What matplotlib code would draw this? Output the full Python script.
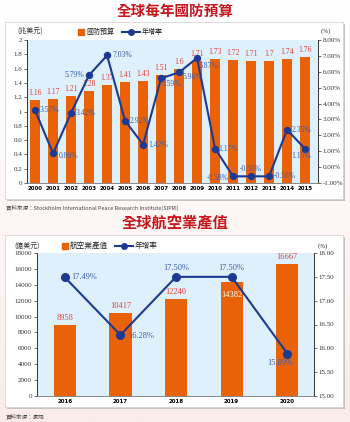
import numpy as np
import matplotlib.pyplot as plt
from matplotlib.patches import Rectangle
from matplotlib.lines import Line2D
from matplotlib.colors import LinearSegmentedColormap

#%% DATA
years1 = ['2000', '2001', '2002', '2003', '2004', '2005', '2006', '2007',
          '2008', '2009', '2010', '2011', '2012', '2013', '2014', '2015']
budget = [1.16, 1.17, 1.21, 1.28, 1.37, 1.41, 1.43, 1.51,
          1.6, 1.71, 1.73, 1.72, 1.71, 1.7, 1.74, 1.76]
growth1 = [3.57, 0.86, 3.42, 5.79, 7.03, 2.92, 1.42, 5.59,
           5.96, 6.87, 1.17, -0.58, -0.58, -0.58, 2.35, 1.15]
budget_labels = ['1.16', '1.17', '1.21', '1.28', '1.37', '1.41', '1.43', '1.51',
                 '1.6', '1.71', '1.73', '1.72', '1.71', '1.7', '1.74', '1.76']

years2 = ['2016', '2017', '2018', '2019', '2020']
aero = [8958, 10417, 12240, 14382, 16667]
growth2 = [17.49, 16.28, 17.50, 17.50, 15.89]

#%% STYLE
W, H = 350, 422
BAR = '#ea6208'
LINE = '#1d3a92'
PLOT_BG = '#def0fb'
RED_TXT = '#e2423a'
BLUE_TXT = '#3e5fae'
TITLE = '#c8161d'
SERIF = 'Liberation Serif'
CJK = ['Noto Sans CJK TC', 'DejaVu Sans']

# label offsets in pixels (dx, dy, ha)
offs1 = [(5, 0, 'left'), (6, -3, 'left'), (5, 0, 'left'), (-5, 0, 'right'),
         (5, 0, 'left'), (5, 0, 'left'), (5, 0, 'left'), (0, -6, 'left'),
         (3, -5, 'left'), (2, -8, 'left'), (3, 0, 'left'), (-4, -2, 'right'),
         (0, 7, 'center'), (5, 0, 'left'), (5, 0, 'left'), (-4, -7, 'center')]
offs2 = [(6, 0, 'left'), (8, -1, 'left'), (0, 9, 'center'), (0, 9, 'center'),
         (-7, -9, 'center')]


def rect(l, t, r, b):
    return [l / W, 1 - b / H, (r - l) / W, (b - t) / H]


def fx(x):
    return x / W


def fy(y):
    return 1 - y / H


def legend_items(y, sq_x, label1, line_x, label2, fs):
    fig.add_artist(Rectangle((fx(sq_x), fy(y + 3)), fx(6), 6 / H,
                             transform=fig.transFigure, color=BAR))
    fig.text(fx(sq_x + 8), fy(y), label1, fontsize=fs, family=CJK,
             color='#222222', va='center')
    fig.add_artist(Line2D([fx(line_x), fx(line_x + 9), fx(line_x + 18)],
                          [fy(y)] * 3, color=LINE, lw=1.5, marker='o', ms=4,
                          markevery=[1], transform=fig.transFigure))
    fig.text(fx(line_x + 20), fy(y), label2, fontsize=fs, family=CJK,
             color='#222222', va='center')


fig = plt.figure(figsize=(3.5, 4.22), dpi=100)
fig.patch.set_facecolor('white')

# faint pink background
bg = fig.add_axes([0, 0, 1, 1], zorder=-10)
grad = np.linspace(0, 1, 200).reshape(-1, 1)
bg.imshow(grad, aspect='auto', extent=[0, 1, 0, 1],
          cmap=LinearSegmentedColormap.from_list(
              'p', ['#f9ecea', '#fdf7f6', '#ffffff']), origin='lower')
bg.axis('off')

# panel boxes with shadow
for (t, b) in [(22, 199), (235, 407)]:
    fig.add_artist(Rectangle((fx(7), fy(b + 2)), fx(338), (b - t) / H,
                             transform=fig.transFigure, facecolor='#c4c4c4',
                             edgecolor='none', zorder=-5))
    fig.add_artist(Rectangle((fx(5), fy(b)), fx(338), (b - t) / H,
                             transform=fig.transFigure, facecolor='white',
                             edgecolor='#d0d0d0', lw=0.5, zorder=-4))


def style_axes(ax, ax2):
    ax.set_facecolor(PLOT_BG)
    ax.set_zorder(1)
    ax2.set_zorder(2)
    for a in (ax, ax2):
        a.spines['top'].set_visible(False)
        a.spines['left'].set_color('#333333')
        a.spines['right'].set_color('#333333')
        a.spines['bottom'].set_color('#888888')
        for s in a.spines.values():
            s.set_linewidth(0.6)
        a.tick_params(axis='y', length=2, width=0.5, pad=1.5, labelsize=5,
                      colors='#333333')
        a.tick_params(axis='x', length=0, pad=2.5, labelsize=4)
        for lab in a.get_yticklabels():
            lab.set_fontfamily(SERIF)
    for lab in ax.get_xticklabels():
        lab.set_fontweight('bold')


#%% TOP CHART
ax = fig.add_axes(rect(27, 40, 318, 183))
x1 = np.arange(len(years1))
ax.bar(x1, budget, width=0.53, color=BAR, zorder=2)
ax.set_xlim(-0.45, 15.72)
ax.set_ylim(0, 2)
ax.set_yticks(np.arange(0, 2.01, 0.2))
ax.set_yticklabels(['0', '0.2', '0.4', '0.6', '0.8', '1', '1.2', '1.4',
                    '1.6', '1.8', '2'])
ax.set_xticks(x1)
ax.set_xticklabels(years1)
for xi, v, s in zip(x1, budget, budget_labels):
    ax.annotate(s, (xi, v), xytext=(0, 3), textcoords='offset pixels',
                ha='center', va='bottom', fontsize=5.5, color=RED_TXT,
                family=SERIF, zorder=5)

ax2 = ax.twinx()
ax2.plot(x1, growth1, color=LINE, lw=1.5, marker='o', ms=4.3, zorder=3)
ax2.set_ylim(-1, 8)
ax2.set_yticks(np.arange(-1, 8.1, 1))
ax2.set_yticklabels(['%.2f%%' % v for v in np.arange(-1, 8.1, 1)])
for xi, v, (dx, dy, ha) in zip(x1, growth1, offs1):
    ax2.annotate('%.2f%%' % v, (xi, v), xytext=(dx, dy),
                 textcoords='offset pixels', ha=ha, va='center',
                 fontsize=5.5, color=BLUE_TXT, family=SERIF, zorder=6)
style_axes(ax, ax2)

fig.text(fx(17), fy(31), '(兆美元)', fontsize=5, family=CJK, color='#333333',
         va='center')
fig.text(fx(321), fy(31), '(%)', fontsize=5, family=SERIF, color='#333333',
         va='center')
legend_items(32, 78, '國防預算', 122, '年增率', 5)

fig.text(0.5, fy(11), '全球每年國防預算', fontsize=10.5, family=CJK,
         weight='bold', color=TITLE, ha='center', va='center')
fig.text(fx(6), fy(208), '資料來源：Stockholm International Peace Research Institute(SIPRI)',
         fontsize=4, family=CJK, color='#444444', va='center')

#%% BOTTOM CHART
bx = fig.add_axes(rect(37, 253, 314, 396))
x2 = np.arange(len(years2))
bx.bar(x2, aero, width=0.4, color=BAR, zorder=2)
bx.set_xlim(-0.5, 4.48)
bx.set_ylim(0, 18000)
bx.set_yticks(np.arange(0, 18001, 2000))
bx.set_xticks(x2)
bx.set_xticklabels(years2)
for xi, v in zip(x2, aero):
    if v == 14382:
        bx.annotate(str(v), (xi, v), xytext=(0, -9), textcoords='offset pixels',
                    ha='center', va='top', fontsize=6, color='white',
                    family=SERIF, zorder=5)
    else:
        bx.annotate(str(v), (xi, v), xytext=(0, 3), textcoords='offset pixels',
                    ha='center', va='bottom', fontsize=6, color=RED_TXT,
                    family=SERIF, zorder=5)

bx2 = bx.twinx()
bx2.plot(x2, growth2, color=LINE, lw=1.5, marker='o', ms=5.5, zorder=3)
bx2.set_ylim(15, 18)
bx2.set_yticks(np.arange(15, 18.01, 0.5))
bx2.set_yticklabels(['%.2f' % v for v in np.arange(15, 18.01, 0.5)])
for xi, v, (dx, dy, ha) in zip(x2, growth2, offs2):
    bx2.annotate('%.2f%%' % v, (xi, v), xytext=(dx, dy),
                 textcoords='offset pixels', ha=ha, va='center',
                 fontsize=6, color=BLUE_TXT, family=SERIF, zorder=6)
style_axes(bx, bx2)

fig.text(fx(14), fy(246), '(億美元)', fontsize=5, family=CJK, color='#333333',
         va='center')
fig.text(fx(318), fy(246), '(%)', fontsize=5, family=SERIF, color='#333333',
         va='center')
legend_items(246, 62, '航空業產值', 115, '年增率', 5.5)

fig.text(0.5, fy(223), '全球航空業產值', fontsize=11, family=CJK,
         weight='bold', color=TITLE, ha='center', va='center')
fig.text(fx(6), fy(416), '資料來源：瀛翊', fontsize=4, family=CJK,
         color='#444444', va='center')

fig.savefig('out.png', dpi=100)
